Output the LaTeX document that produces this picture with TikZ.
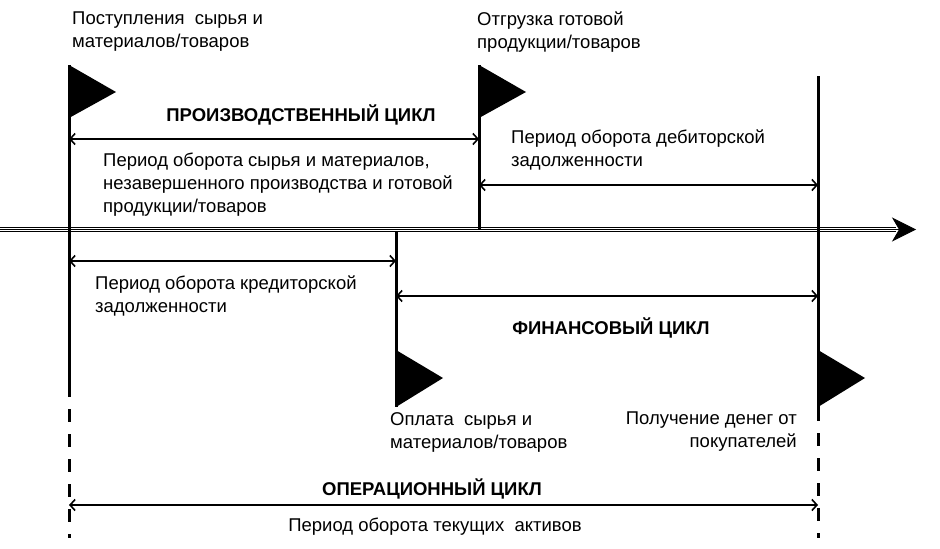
\documentclass[tikz,border=0pt]{standalone}
\usepackage{fontspec}
\setmainfont{Liberation Sans}
\usetikzlibrary{arrows.meta,positioning,calc}

\begin{document}
\begin{tikzpicture}[
    x=1pt, y=-1pt,
    every node/.style={inner sep=0pt, font=\fontsize{18.5}{23}\selectfont},
    note/.style={align=left},
    cyclename/.style={font=\fontsize{18.5}{23}\selectfont\bfseries},
    pole/.style={line width=3pt},
    dashpole/.style={line width=3pt, dash pattern=on 13pt off 12pt},
    flag/.style={fill=black},
    span/.style={<->, line width=1.6pt, >={Straight Barb[length=5pt,width=11pt]}},
    timeline/.style={double, double distance=3.6pt, line width=1pt}
]
\useasboundingbox (0,0) rectangle (940,549);

% Poles
\coordinate (Atop) at (69,65);
\coordinate (Abot) at (69,384);
\coordinate (Aend) at (69,538);
\coordinate (Btop) at (479,65);
\coordinate (Bbot) at (479,229);
\coordinate (Ctop) at (396,231);
\coordinate (Cflag) at (396,350);
\coordinate (Cbot) at (396,407);
\coordinate (Dtop) at (818,76);
\coordinate (Dflag) at (818,350);
\coordinate (Dbot) at (818,408);
\coordinate (Dend) at (818,538);

% Time axis
\coordinate (t0) at (0,229.5);
\coordinate (t1) at (896,229.5);
\coordinate (tend) at (916,229.5);
\draw[timeline] (t0) -- (t1);
\draw[line width=1pt, -{Stealth[length=24pt,width=24pt,inset=7pt]}] (t0) -- (tend);

\draw[pole] (Atop) -- (Abot);
\draw[dashpole] (Abot) -- (Aend);
\draw[pole] (Btop) -- (Bbot);
\draw[pole] (Ctop) -- (Cbot);
\draw[pole] (Dtop) -- (Dbot);
\draw[dashpole] (Dbot) -- (Dend);

% Flags
\fill[flag] (Atop) -- ++(47,27) -- ++(-47,26) -- cycle;
\fill[flag] (Btop) -- ++(47,27) -- ++(-47,26) -- cycle;
\fill[flag] (Cflag) -- ++(47,28) -- ++(-47,29) -- cycle;
\fill[flag] (Dflag) -- ++(47,28) -- ++(-47,29) -- cycle;

% Spans
\coordinate (prodL) at (69,139);
\coordinate (prodR) at (479,139);
\coordinate (recvL) at (479,185);
\coordinate (recvR) at (818,185);
\coordinate (payL) at (69,261);
\coordinate (payR) at (396,261);
\coordinate (finL) at (396,296);
\coordinate (finR) at (818,296);
\coordinate (opL) at (69,505);
\coordinate (opR) at (818,505);
\draw[span] (prodL) -- (prodR);
\draw[span] (recvL) -- (recvR);
\draw[span] (payL) -- (payR);
\draw[span] (finL) -- (finR);
\draw[span] (opL) -- (opR);

% Events
\node[note, anchor=west] (inflow) at (72,32) {Поступления \ сырья и\\материалов/товаров};
\node[note, anchor=west] (shipment) at (477,32) {Отгрузка готовой\\продукции/товаров};
\node[note, anchor=west] (payment) at (390,432) {Оплата \ сырья и\\материалов/товаров};
\node[note, align=right, anchor=east] (receipt) at (797,432) {Получение денег от\\покупателей};

% Cycles
\node[cyclename] (prodcycle) at (301,115) {ПРОИЗВОДСТВЕННЫЙ ЦИКЛ};
\node[cyclename] (fincycle) at (611,328) {ФИНАНСОВЫЙ ЦИКЛ};
\node[cyclename] (opcycle) at (432,489) {ОПЕРАЦИОННЫЙ ЦИКЛ};

% Periods
\node[note, anchor=west] (invtext) at (103,185) {Период оборота сырья и материалов,\\незавершенного производства и готовой\\продукции/товаров};
\node[note, anchor=west] (recvtext) at (511,150) {Период оборота дебиторской\\задолженности};
\node[note, anchor=west] (paytext) at (95,296) {Период оборота кредиторской\\задолженности};
\node (assettext) at (435,527) {Период оборота текущих \ активов};

\end{tikzpicture}
\end{document}
